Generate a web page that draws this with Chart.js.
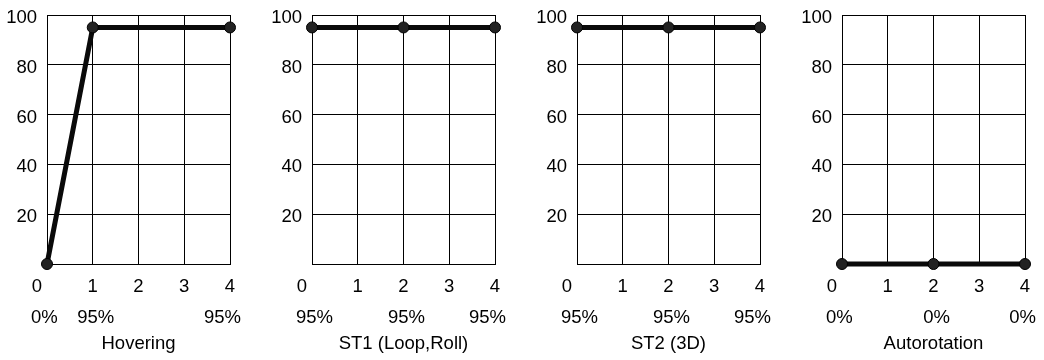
<!DOCTYPE html>
<html>
<head>
<meta charset="utf-8">
<script src="https://cdn.jsdelivr.net/npm/chart.js@4"></script>
<style>
  body { margin: 0; background: #fff; width: 1044px; height: 360px; overflow: hidden; position: relative; }
  .panel { position: absolute; top: 0; width: 249px; height: 360px; }
</style>
</head>
<body>
<div class="panel" style="left:0px"><canvas id="c0"></canvas></div>
<div class="panel" style="left:265px"><canvas id="c1"></canvas></div>
<div class="panel" style="left:530px"><canvas id="c2"></canvas></div>
<div class="panel" style="left:795px"><canvas id="c3"></canvas></div>
<script>
// flight modes
const panelTitles = ['Hovering', 'ST1 (Loop,Roll)', 'ST2 (3D)', 'Autorotation'];

// x positions and values per mode
const hoverX = [0, 1, 4];
const hoverY = [0, 95, 95];
const st1X = [0, 2, 4];
const st1Y = [95, 95, 95];
const st2X = [0, 2, 4];
const st2Y = [95, 95, 95];
const autoX = [0, 2, 4];
const autoY = [0, 0, 0];

const xTicks = [0, 1, 2, 3, 4];
const yTicks = [20, 40, 60, 80, 100];

const panelX = [hoverX, st1X, st2X, autoX];
const panelY = [hoverY, st1Y, st2Y, autoY];

const FONT = '18.5px "Liberation Sans", Arial, sans-serif';

// draws tick labels, the percent row and the mode name
const labelsPlugin = {
  id: 'labels',
  afterDraw(chart) {
    const ctx = chart.ctx;
    const xs = chart.scales.x, ys = chart.scales.y;
    const area = chart.chartArea;
    const idx = chart.options.plugins.labels.index;
    ctx.save();
    ctx.font = FONT;
    ctx.fillStyle = '#000';
    ctx.textBaseline = 'alphabetic';

    ctx.textAlign = 'right';
    yTicks.forEach(v => {
      ctx.fillText(String(v), area.left - 10, ys.getPixelForValue(v) + 8);
    });

    ctx.textAlign = 'center';
    xTicks.forEach(v => {
      let px = xs.getPixelForValue(v);
      if (v === xTicks[0]) px -= 10;
      ctx.fillText(String(v), px, 292);
    });

    const xv = panelX[idx], yv = panelY[idx];
    xv.forEach((v, i) => {
      const px = xs.getPixelForValue(v);
      const txt = yv[i] + '%';
      if (i === 0) {
        ctx.textAlign = 'left';
        ctx.fillText(txt, px - 16, 323);
      } else if (i === xv.length - 1) {
        ctx.textAlign = 'right';
        ctx.fillText(txt, px + 11, 323);
      } else {
        ctx.textAlign = 'center';
        ctx.fillText(txt, px + 3, 323);
      }
    });

    ctx.textAlign = 'center';
    ctx.fillText(panelTitles[idx], (area.left + area.right) / 2, 349);
    ctx.restore();
  }
};

function makeChart(i) {
  const pts = panelX[i].map((x, k) => ({ x: x, y: panelY[i][k] }));
  new Chart(document.getElementById('c' + i), {
    type: 'scatter',
    data: {
      datasets: [{
        data: pts,
        showLine: true,
        borderColor: '#0a0a0a',
        borderWidth: 5,
        pointRadius: 5.5,
        pointBackgroundColor: '#222',
        pointBorderColor: '#000',
        pointBorderWidth: 1,
        clip: false
      }]
    },
    options: {
      responsive: true,
      maintainAspectRatio: false,
      animation: false,
      layout: { padding: { left: 47, right: 19, top: 15, bottom: 96 } },
      plugins: {
        legend: { display: false },
        tooltip: { enabled: false },
        labels: { index: i }
      },
      scales: {
        x: {
          type: 'linear',
          min: 0,
          max: 4,
          ticks: { display: false, stepSize: 1 },
          grid: { color: '#000', lineWidth: 1, drawTicks: false },
          border: { color: '#000', width: 1 }
        },
        y: {
          min: 0,
          max: 100,
          ticks: { display: false, stepSize: 20 },
          grid: { color: '#000', lineWidth: 1, drawTicks: false },
          border: { color: '#000', width: 1 }
        }
      }
    },
    plugins: [labelsPlugin]
  });
}

for (let i = 0; i < 4; i++) makeChart(i);
</script>
</body>
</html>
